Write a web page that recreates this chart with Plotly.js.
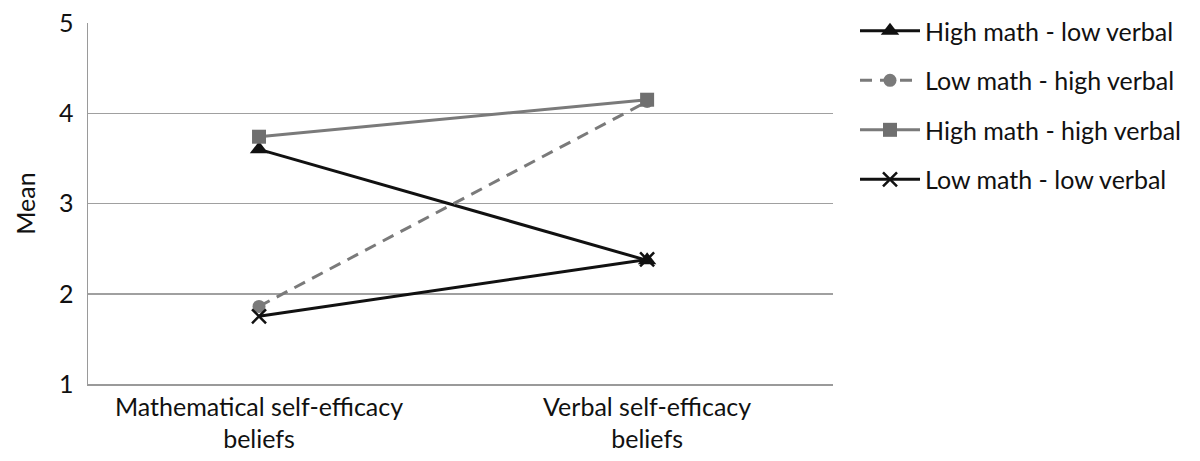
<!DOCTYPE html>
<html>
<head>
<meta charset="utf-8">
<script src="https://cdn.plot.ly/plotly-3.0.1.min.js"></script>
<style>html,body{margin:0;padding:0;background:#fff;}#chart{width:1200px;height:461px;}</style>
</head>
<body>
<div id="chart"></div>
<script>
var categories = ["Mathematical self-efficacy<br>beliefs", "Verbal self-efficacy<br>beliefs"];
var seriesNames = ["High math - low verbal", "Low math - high verbal", "High math - high verbal", "Low math - low verbal"];
var highMathLowVerbal = [3.60, 2.37];
var lowMathHighVerbal = [1.86, 4.13];
var highMathHighVerbal = [3.74, 4.15];
var lowMathLowVerbal = [1.75, 2.38];
var yTicks = [1, 2, 3, 4, 5];

var FONT = "Lato, 'Open Sans', sans-serif";
var FS = 25;

var traces = [
  {x: categories, y: highMathLowVerbal, name: seriesNames[0], legendgroup: "a",
   mode: "lines+markers", line: {color: "#111111", width: 3},
   marker: {symbol: "triangle-up", size: 16, color: "#111111"}},
  {x: categories, y: lowMathHighVerbal, name: seriesNames[1], legendgroup: "b",
   mode: "lines+markers", line: {color: "#7a7a7a", width: 3, dash: "12px,8px"},
   marker: {symbol: "circle", size: 13, color: "#7a7a7a"}},
  {x: categories, y: highMathHighVerbal, name: seriesNames[2], legendgroup: "c",
   mode: "lines+markers", line: {color: "#7a7a7a", width: 3},
   marker: {symbol: "square", size: 14, color: "#6f6f6f"}},
  {x: categories, y: lowMathLowVerbal, name: seriesNames[3], legendgroup: "d",
   mode: "lines+markers", line: {color: "#111111", width: 3},
   marker: {symbol: "x-thin", size: 14, color: "#111111", line: {color: "#111111", width: 2.5}}}
];

var layout = {
  width: 1200, height: 461,
  margin: {l: 88, r: 367, t: 23, b: 77, autoexpand: false},
  paper_bgcolor: "#ffffff", plot_bgcolor: "#ffffff",
  font: {family: FONT, size: FS, color: "#111111"},
  showlegend: true,
  legend: {xref: "container", yref: "container", x: 0.7125, xanchor: "left", y: 0.9825, yanchor: "top",
           font: {family: FONT, size: FS, color: "#111111"},
           tracegroupgap: 14, traceorder: "grouped", itemwidth: 60,
           bgcolor: "rgba(0,0,0,0)"},
  xaxis: {type: "category", range: [-0.4407, 1.479], showgrid: false,
          showline: true, linecolor: "#9a9a9a", linewidth: 1.5,
          ticks: "", tickfont: {family: FONT, size: FS, color: "#111111"},
          zeroline: false, fixedrange: true},
  yaxis: {range: [1, 5], tickvals: yTicks, ticktext: yTicks.map(String),
          showgrid: true, gridcolor: "#a0a0a0", gridwidth: 1.5,
          showline: true, linecolor: "#9a9a9a", linewidth: 1.5,
          ticks: "", ticklabelstandoff: 8,
          tickfont: {family: FONT, size: FS, color: "#111111"},
          zeroline: false,
          title: {text: "Mean", font: {family: FONT, size: FS, color: "#111111"}, standoff: 16}}
};

Plotly.newPlot("chart", traces, layout, {displayModeBar: false, staticPlot: true});
</script>
</body>
</html>
